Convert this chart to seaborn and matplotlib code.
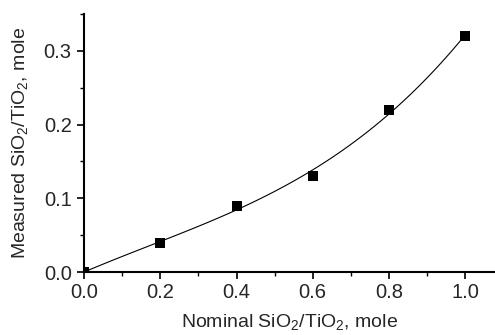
import matplotlib
matplotlib.use("Agg")
import matplotlib.pyplot as plt
import seaborn as sns
import pandas as pd
from matplotlib.ticker import MultipleLocator

nominal = [0.0, 0.2, 0.4, 0.6, 0.8, 1.0]
measured = [0.0, 0.04, 0.09, 0.13, 0.22, 0.32]
xticks = [0.0, 0.2, 0.4, 0.6, 0.8, 1.0]
yticks = [0.0, 0.1, 0.2, 0.3]

df = pd.DataFrame({"nominal": nominal, "measured": measured})

sns.set_style("ticks")
plt.rcParams["font.family"] = ["Liberation Sans", "DejaVu Sans"]
plt.rcParams["mathtext.default"] = "regular"

fig = plt.figure(figsize=(4.95, 3.35), dpi=100)
ax = fig.add_axes([0.170, 0.188, 0.828, 0.770])

sns.regplot(data=df, x="nominal", y="measured", order=3, ci=None, scatter=False,
            truncate=True, line_kws={"color": "black", "lw": 0.8}, ax=ax)
sns.scatterplot(data=df, x="nominal", y="measured", marker="s", s=55,
                color="black", edgecolor="black", linewidth=0, ax=ax, zorder=3)

ax.set_xlim(0, 1.076)
ax.set_ylim(0, 0.35)
ax.set_xticks(xticks)
ax.set_yticks(yticks)
ax.set_xticklabels([f"{v:.1f}" for v in xticks])
ax.set_yticklabels([f"{v:.1f}" for v in yticks])
ax.xaxis.set_minor_locator(MultipleLocator(0.1))
ax.yaxis.set_minor_locator(MultipleLocator(0.05))
ax.tick_params(which="major", direction="out", length=5, width=1.2, labelsize=14.5,
               color="black")
ax.tick_params(axis="x", which="major", pad=3)
ax.tick_params(axis="y", which="major", pad=4)
ax.tick_params(which="minor", direction="out", length=3, width=1.0, color="black")
sns.despine(ax=ax)
for s in ["left", "bottom"]:
    ax.spines[s].set_linewidth(1.5)
    ax.spines[s].set_color("black")

ax.set_xlabel("Nominal SiO$_2$/TiO$_2$, mole", fontsize=14, labelpad=7)
ax.set_ylabel("Measured SiO$_2$/TiO$_2$, mole", fontsize=14, labelpad=10)

fig.savefig("out.png", dpi=100)
